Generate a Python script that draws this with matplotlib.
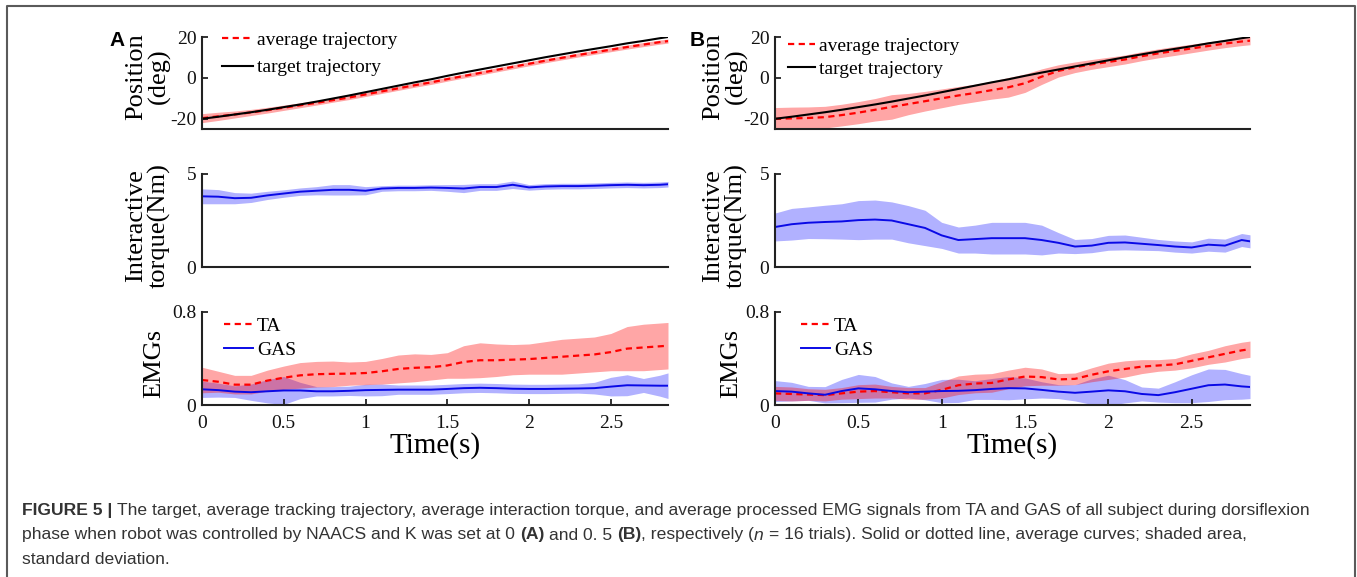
import matplotlib
matplotlib.use('Agg')
import numpy as np
import matplotlib.pyplot as plt
from matplotlib.lines import Line2D
from matplotlib.transforms import IdentityTransform

plt.rcParams['font.family'] = 'Liberation Serif'
plt.rcParams['axes.unicode_minus'] = False

# time samples (s)
t = [0.0, 0.1, 0.2, 0.3, 0.4, 0.5, 0.6, 0.7, 0.8, 0.9, 1.0, 1.1, 1.2, 1.3, 1.4,
     1.5, 1.6, 1.7, 1.8, 1.9, 2.0, 2.1, 2.2, 2.3, 2.4, 2.5, 2.6, 2.7, 2.8, 2.85]

# position (deg)
pos_target = [-20.0, -19.0, -17.9, -16.8, -15.6, -14.3, -13.0, -11.6, -10.1, -8.6,
              -7.0, -5.4, -3.8, -2.2, -0.7, 1.0, 2.6, 4.1, 5.6, 7.1,
              8.6, 10.1, 11.5, 12.9, 14.2, 15.5, 16.9, 18.1, 19.4, 20.0]
pos_avg_A = [-19.7, -18.8, -17.9, -16.9, -15.8, -14.6, -13.4, -12.2, -10.9, -9.6,
             -8.1, -6.6, -5.1, -3.6, -2.2, -0.6, 0.9, 2.4, 3.9, 5.4,
             6.9, 8.4, 9.8, 11.2, 12.5, 13.8, 15.1, 16.3, 17.5, 18.0]
pos_sd_A = [2.2, 2.0, 1.7, 1.5, 1.4, 1.3, 1.2, 1.1, 1.0, 1.0,
            1.0, 1.0, 1.0, 1.0, 1.0, 1.0, 1.0, 1.0, 1.0, 1.0,
            1.0, 1.0, 1.0, 1.0, 1.0, 1.0, 1.0, 1.0, 1.0, 1.0]
pos_avg_B = [-20.0, -19.8, -19.6, -19.2, -18.2, -17.0, -15.6, -14.2, -12.8, -11.4,
             -10.0, -8.6, -7.4, -6.0, -4.6, -2.6, 0.6, 3.4, 5.2, 6.6,
             7.8, 9.0, 10.6, 12.0, 13.2, 14.4, 15.6, 16.8, 17.8, 18.2]
pos_sd_B = [5.5, 5.5, 5.4, 5.3, 5.3, 5.4, 5.5, 6.0, 5.2, 4.8,
            4.6, 4.4, 4.3, 4.4, 4.8, 4.5, 3.8, 3.0, 2.6, 2.4,
            2.3, 2.2, 2.2, 2.2, 2.2, 2.1, 2.0, 2.0, 2.0, 2.0]

# interaction torque (Nm)
torque_A = [3.80, 3.78, 3.70, 3.72, 3.85, 3.95, 4.05, 4.10, 4.15, 4.15,
            4.10, 4.22, 4.25, 4.25, 4.27, 4.25, 4.22, 4.30, 4.30, 4.42,
            4.28, 4.33, 4.35, 4.35, 4.37, 4.40, 4.42, 4.40, 4.42, 4.45]
torque_sd_A = [0.40, 0.38, 0.30, 0.25, 0.22, 0.20, 0.20, 0.22, 0.28, 0.28,
               0.22, 0.15, 0.15, 0.15, 0.15, 0.18, 0.22, 0.18, 0.18, 0.20,
               0.15, 0.15, 0.15, 0.15, 0.15, 0.15, 0.15, 0.15, 0.15, 0.15]
torque_B = [2.15, 2.30, 2.38, 2.42, 2.45, 2.52, 2.55, 2.50, 2.30, 2.10,
            1.70, 1.45, 1.50, 1.55, 1.55, 1.55, 1.45, 1.30, 1.10, 1.15,
            1.30, 1.32, 1.25, 1.18, 1.10, 1.05, 1.20, 1.15, 1.45, 1.38]
torque_sd_B = [0.75, 0.85, 0.85, 0.90, 0.95, 1.05, 1.05, 1.00, 1.00, 0.95,
               0.70, 0.70, 0.75, 0.85, 0.85, 0.85, 0.80, 0.55, 0.38, 0.38,
               0.40, 0.40, 0.35, 0.30, 0.30, 0.30, 0.35, 0.35, 0.35, 0.35]

# EMGs
ta_A = [0.215, 0.200, 0.175, 0.175, 0.210, 0.235, 0.255, 0.265, 0.268, 0.270,
        0.275, 0.290, 0.310, 0.320, 0.325, 0.340, 0.370, 0.385, 0.385, 0.390,
        0.395, 0.405, 0.415, 0.425, 0.435, 0.455, 0.485, 0.495, 0.505, 0.510]
ta_sd_A = [0.11, 0.09, 0.08, 0.08, 0.09, 0.10, 0.11, 0.11, 0.11, 0.10,
           0.10, 0.11, 0.12, 0.12, 0.11, 0.11, 0.14, 0.15, 0.14, 0.13,
           0.13, 0.14, 0.15, 0.15, 0.15, 0.16, 0.19, 0.20, 0.20, 0.20]
gas_A = [0.135, 0.128, 0.115, 0.110, 0.118, 0.125, 0.125, 0.118, 0.118, 0.122,
         0.128, 0.130, 0.132, 0.132, 0.132, 0.138, 0.145, 0.148, 0.145, 0.140,
         0.138, 0.138, 0.140, 0.142, 0.145, 0.158, 0.170, 0.168, 0.166, 0.166]
gas_sd_A = [0.07, 0.06, 0.05, 0.07, 0.10, 0.12, 0.07, 0.04, 0.04, 0.04,
            0.05, 0.05, 0.04, 0.04, 0.04, 0.04, 0.04, 0.04, 0.04, 0.04,
            0.04, 0.04, 0.04, 0.04, 0.05, 0.08, 0.09, 0.06, 0.09, 0.11]
ta_B = [0.100, 0.095, 0.090, 0.085, 0.100, 0.115, 0.120, 0.110, 0.100, 0.100,
        0.130, 0.170, 0.185, 0.190, 0.220, 0.245, 0.240, 0.220, 0.225, 0.260,
        0.290, 0.310, 0.330, 0.340, 0.350, 0.380, 0.410, 0.440, 0.470, 0.480]
ta_sd_B = [0.06, 0.06, 0.05, 0.05, 0.05, 0.06, 0.06, 0.05, 0.05, 0.05,
           0.07, 0.08, 0.08, 0.08, 0.08, 0.08, 0.07, 0.05, 0.05, 0.06,
           0.07, 0.07, 0.06, 0.05, 0.05, 0.06, 0.06, 0.07, 0.07, 0.07]
gas_B = [0.120, 0.115, 0.100, 0.088, 0.120, 0.143, 0.135, 0.120, 0.110, 0.115,
         0.120, 0.122, 0.128, 0.138, 0.145, 0.143, 0.130, 0.115, 0.105, 0.115,
         0.126, 0.118, 0.095, 0.085, 0.110, 0.140, 0.170, 0.176, 0.160, 0.155]
gas_sd_B = [0.09, 0.08, 0.06, 0.07, 0.10, 0.12, 0.11, 0.07, 0.05, 0.07,
            0.10, 0.10, 0.08, 0.09, 0.10, 0.09, 0.07, 0.06, 0.07, 0.11,
            0.13, 0.10, 0.06, 0.06, 0.09, 0.12, 0.14, 0.13, 0.11, 0.10]

x_ticks = [0, 0.5, 1, 1.5, 2, 2.5]
x_tick_labels = ['0', '0.5', '1', '1.5', '2', '2.5']

W, H = 1357, 577
fig = plt.figure(figsize=(W / 100, H / 100), dpi=100)

red = '#ff0000'
blue = '#0a0ae6'
band_red = '#ff0000'
band_blue = '#2020ff'
dash = (2.8, 2.0)


def px_axes(left, right, top, bottom):
    return fig.add_axes([left / W, 1 - bottom / H, (right - left) / W, (bottom - top) / H])


def style(ax, xlabels):
    for s in ['top', 'right']:
        ax.spines[s].set_visible(False)
    for s in ['left', 'bottom']:
        ax.spines[s].set_linewidth(1.5)
        ax.spines[s].set_color('#222222')
    ax.set_xlim(0, 2.85)
    ax.tick_params(direction='in', length=4, width=1.2, labelsize=14, pad=4, colors='#111111')
    ax.tick_params(axis='x', pad=7)
    if xlabels:
        ax.set_xticks(x_ticks)
        ax.set_xticklabels(x_tick_labels)
        ax.set_xlabel('Time(s)', fontsize=21, labelpad=0)
    else:
        ax.set_xticks([])


cols = {'A': (202, 668, pos_avg_A, pos_sd_A, torque_A, torque_sd_A, ta_A, ta_sd_A, gas_A, gas_sd_A),
        'B': (775, 1250, pos_avg_B, pos_sd_B, torque_B, torque_sd_B, ta_B, ta_sd_B, gas_B, gas_sd_B)}

for key, (l, r, pa, ps, tq, tqs, ta, tas, gs, gss) in cols.items():
    lab_x = -54 / (r - l) if key == 'A' else -50 / (r - l)

    # position
    ax = px_axes(l, r, 37, 129)
    pa_ = np.array(pa)
    ps_ = np.array(ps)
    ax.fill_between(t, pa_ - ps_, pa_ + ps_, color=band_red, alpha=0.35, lw=0)
    ax.plot(t, pa, color=red, lw=1.6, dashes=dash, label='average trajectory')
    ax.plot(t, pos_target, color='k', lw=1.5, label='target trajectory')
    ax.set_ylim(-25, 20)
    ax.set_yticks([-20, 0, 20])
    style(ax, False)
    ax.set_ylabel('Position\n(deg)', fontsize=19, ha='center', va='center', linespacing=1.0)
    ax.yaxis.set_label_coords(lab_x, 0.57)
    if key == 'A':
        ax.legend(loc='upper left', bbox_to_anchor=(0.043, 1.06), frameon=False, fontsize=14,
                  handlelength=1.6, handletextpad=0.2, labelspacing=0.5, borderpad=0, borderaxespad=0)
    else:
        ax.legend(loc='upper left', bbox_to_anchor=(0.027, 1.0), frameon=False, fontsize=14,
                  handlelength=1.4, handletextpad=0.2, labelspacing=0.3, borderpad=0, borderaxespad=0)

    # torque
    ax = px_axes(l, r, 174, 267)
    tq_ = np.array(tq)
    tqs_ = np.array(tqs)
    ax.fill_between(t, tq_ - tqs_, tq_ + tqs_, color=band_blue, alpha=0.35, lw=0)
    ax.plot(t, tq, color=blue, lw=1.4)
    ax.set_ylim(0, 5)
    ax.set_yticks([0, 5])
    style(ax, False)
    ax.set_ylabel('Interactive\ntorque(Nm)', fontsize=19, ha='center', va='center', linespacing=1.0)
    ax.yaxis.set_label_coords(lab_x, 0.45)

    # EMGs
    ax = px_axes(l, r, 312, 405)
    ta_ = np.array(ta)
    tas_ = np.array(tas)
    gs_ = np.array(gs)
    gss_ = np.array(gss)
    ax.fill_between(t, gs_ - gss_, gs_ + gss_, color=band_blue, alpha=0.35, lw=0)
    ax.fill_between(t, ta_ - tas_, ta_ + tas_, color=band_red, alpha=0.35, lw=0)
    ax.plot(t, ta, color=red, lw=1.6, dashes=dash, label='TA')
    ax.plot(t, gs, color=blue, lw=1.4, label='GAS')
    ax.set_ylim(0, 0.8)
    ax.set_yticks([0, 0.8])
    ax.set_yticklabels(['0', '0.8'])
    style(ax, True)
    ax.set_ylabel('EMGs', fontsize=19, ha='center', va='center')
    ax.yaxis.set_label_coords(lab_x + 6 / (r - l), 0.45)
    bx = 0.047 if key == 'A' else 0.055
    ax.legend(loc='upper left', bbox_to_anchor=(bx, 0.94), frameon=False, fontsize=14,
              handlelength=1.5, handletextpad=0.2, labelspacing=0.3, borderpad=0, borderaxespad=0)

# panel letters
fig.text(117 / W, 1 - 40 / H, 'A', family='Liberation Sans', weight='bold', fontsize=15,
         ha='center', va='center')
fig.text(697 / W, 1 - 40 / H, 'B', family='Liberation Sans', weight='bold', fontsize=15,
         ha='center', va='center')

# frame around the figure (open at the bottom)
fig.add_artist(Line2D([7 / W, 7 / W, 1355 / W, 1355 / W], [0, 1 - 6 / H, 1 - 6 / H, 0],
                      transform=fig.transFigure, color='#5a5a5a', lw=1.5))

# caption
cap_size = 12.6
cap_color = '#333333'
renderer = fig.canvas.get_renderer()


def width_of(s, **kw):
    tt = fig.text(0, 0, s, fontsize=cap_size, family='Liberation Sans', transform=IdentityTransform(), **kw)
    w = tt.get_window_extent(renderer).width
    tt.remove()
    return w


space_w = width_of('a a') - width_of('aa')


def caption_line(y_px, parts):
    x = 22
    for s, kw, gap in parts:
        tt = fig.text(x, H - y_px, s, fontsize=cap_size, family='Liberation Sans', color=cap_color,
                      va='center', ha='left', transform=IdentityTransform(), **kw)
        x += tt.get_window_extent(renderer).width
        if gap:
            x += space_w


B = {'weight': 'bold'}
N = {}
I = {'style': 'italic'}
caption_line(510, [('FIGURE 5 |', B, True),
                   ('The target, average tracking trajectory, average interaction torque, and average '
                    'processed EMG signals from TA and GAS of all subject during dorsiflexion', N, False)])
caption_line(535, [('phase when robot was controlled by NAACS and K was set at 0', N, True),
                   ('(A)', B, True),
                   ('and 0. 5', N, True),
                   ('(B)', B, False),
                   (', respectively (', N, False),
                   ('n', I, True),
                   ('= 16 trials). Solid or dotted line, average curves; shaded area,', N, False)])
caption_line(559, [('standard deviation.', N, False)])

fig.savefig('out.png', dpi=100)
